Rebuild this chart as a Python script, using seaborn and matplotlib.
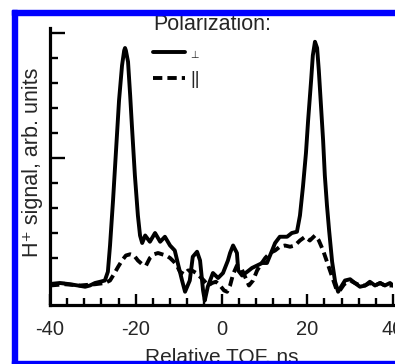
import numpy as np
import pandas as pd
import matplotlib
matplotlib.use("Agg")
import matplotlib.pyplot as plt
import seaborn as sns
from matplotlib.patches import Rectangle
from matplotlib.ticker import MultipleLocator

# Perpendicular polarization (solid)
perp_t = [-40.0, -37.7, -35.3, -33.5, -31.8, -30.7, -29.5, -28.3, -27.2, -26.5, -26.0, -25.3,
          -24.6, -23.9, -23.2, -22.7, -22.5, -22.3, -21.8, -21.3, -20.9, -20.2, -19.5, -19.0,
          -18.5, -17.8, -16.7, -15.5, -14.3, -13.2, -12.0, -10.9, -10.2, -9.2, -8.5, -7.4,
          -6.7, -5.7, -5.0, -4.3, -3.9, -3.2, -2.0, -0.8, 0.35, 1.5, 2.0, 2.7, 3.6, 3.9,
          4.8, 6.0, 7.1, 8.3, 9.5, 10.6, 11.8, 12.5, 13.6, 15.3, 16.4, 17.6, 18.3, 19.0,
          19.7, 20.2, 20.9, 21.3, 21.8, 22.3, 22.7, 23.2, 23.7, 24.1, 24.6, 25.1, 25.8,
          26.5, 27.2, 27.9, 28.8, 30.0, 31.1, 32.3, 33.5, 34.6, 35.8, 37.0, 38.1, 39.3, 40.0]
perp_s = [-0.01, 0.00, -0.01, -0.02, -0.03, -0.02, 0.00, 0.01, 0.02, 0.09, 0.30, 0.66,
          1.06, 1.46, 1.74, 1.86, 1.88, 1.86, 1.77, 1.50, 1.26, 0.86, 0.54, 0.38,
          0.32, 0.38, 0.33, 0.40, 0.33, 0.37, 0.30, 0.26, 0.16, 0.02, -0.07, 0.02,
          0.21, 0.25, 0.18, -0.06, -0.14, -0.03, 0.08, 0.04, 0.08, 0.18, 0.24, 0.30, 0.24, 0.10,
          0.06, 0.09, 0.12, 0.14, 0.16, 0.16, 0.26, 0.32, 0.37, 0.37, 0.40, 0.41, 0.54, 0.77,
          1.04, 1.30, 1.62, 1.82, 1.93, 1.88, 1.70, 1.42, 1.14, 0.86, 0.62, 0.42, 0.17,
          0.01, -0.07, -0.03, 0.02, 0.03, 0.00, -0.03, -0.02, 0.01, -0.02, 0.00, -0.02, 0.00, -0.02]

# Parallel polarization (dashed)
par_t = [-40.0, -36.5, -33.0, -29.5, -27.2, -26.0, -25.1, -24.1, -23.2, -22.3, -21.3, -20.4,
         -19.5, -18.5, -17.6, -16.7, -15.7, -14.8, -13.9, -12.9, -12.0, -11.1, -10.4, -9.7,
         -8.7, -7.8, -6.9, -5.9, -5.0, -4.1, -3.1, -2.2, -1.3, -0.35, 0.6, 1.3, 2.0, 2.7,
         3.6, 4.6, 5.5, 6.4, 7.35, 8.3, 9.2, 10.2, 11.3, 12.5, 13.6, 14.8, 16.0, 17.1,
         18.3, 19.5, 20.6, 21.8, 22.7, 23.7, 24.6, 25.5, 26.2, 26.9, 27.6, 28.6, 30.0,
         31.1, 32.3, 33.5, 34.6, 35.8, 37.0, 38.1, 40.0]
par_s = [-0.02, -0.01, -0.02, -0.01, 0.00, 0.02, 0.07, 0.13, 0.18, 0.22, 0.23, 0.22,
         0.18, 0.15, 0.14, 0.20, 0.23, 0.24, 0.23, 0.22, 0.20, 0.17, 0.14, 0.09,
         0.07, 0.10, 0.10, 0.08, 0.05, 0.02, -0.02, 0.00, 0.01, -0.02, -0.06, -0.07, -0.02, 0.07,
         0.14, 0.12, 0.05, -0.02, 0.02, 0.10, 0.15, 0.20, 0.24, 0.26, 0.29, 0.30, 0.29, 0.30,
         0.34, 0.37, 0.34, 0.38, 0.34, 0.26, 0.17, 0.08, 0.01, -0.06, -0.06, -0.01, 0.02,
         0.00, -0.02, -0.02, 0.00, -0.02, 0.00, -0.02, -0.02]

labels = ['\u22a5', '||']
x_major = [-40, -20, 0, 20, 40]

sns.set_style("ticks")
plt.rcParams['font.family'] = ['Liberation Sans', 'DejaVu Sans']

df = pd.concat([
    pd.DataFrame({'t': perp_t, 's': perp_s, 'pol': labels[0]}),
    pd.DataFrame({'t': par_t, 's': par_s, 'pol': labels[1]}),
], ignore_index=True)

W, H = 395, 364
fig = plt.figure(figsize=(W / 100, H / 100), dpi=100)
ax = fig.add_axes([50 / W, 59 / H, 343 / W, 277 / H])

sns.lineplot(data=df, x='t', y='s', hue='pol', style='pol',
             palette=['black', 'black'], dashes={labels[0]: '', labels[1]: (2.4, 1.3)},
             linewidth=2.8, sort=False, estimator=None, legend=False, ax=ax)

ax.set_xlim(-40, 40)
ax.set_ylim(-0.176, 2.04)
ax.set_xticks(x_major)
ax.set_xticklabels(['-40', '-20', '0', '20', '40'])
ax.xaxis.set_minor_locator(MultipleLocator(4))
ax.set_yticks([0, 1, 2])
ax.yaxis.set_minor_locator(MultipleLocator(0.2))
ax.set_yticklabels([])
ax.tick_params(which='both', direction='in', color='black', width=1.7)
ax.tick_params(axis='x', which='major', length=8, labelsize=14.5, pad=11)
ax.tick_params(axis='x', which='minor', length=5)
ax.tick_params(axis='y', which='major', length=11)
ax.tick_params(axis='y', which='minor', length=6)
for side in ['top', 'right']:
    ax.spines[side].set_visible(False)
for side in ['left', 'bottom']:
    ax.spines[side].set_linewidth(2.3)
    ax.spines[side].set_color('black')

ax.set_xlabel('Relative TOF, ns', fontsize=15)
ax.xaxis.set_label_coords(0.5, -0.152)
ax.set_ylabel('H\u207a signal, arb. units', fontsize=15.5)
ax.yaxis.set_label_coords(-0.02, 0.516)

leg = ax.legend(handles=ax.lines[:2], labels=labels, title='Polarization:',
                loc='upper left', bbox_to_anchor=(153 / W, 1 - 14 / H),
                bbox_transform=fig.transFigure, frameon=False, borderpad=0,
                borderaxespad=0, handlelength=1.78, handletextpad=0.3,
                labelspacing=0.6, fontsize=13, title_fontsize=15.5, alignment='left')
leg.get_texts()[0].set_fontsize(7)

blue = '#0000ff'
fig.add_artist(Rectangle((12 / W, 1 - 15 / H), 1, 5 / H, transform=fig.transFigure,
                         color=blue, zorder=20))
fig.add_artist(Rectangle((12 / W, 0), 5 / W, 1 - 10 / H, transform=fig.transFigure,
                         color=blue, zorder=20))
fig.add_artist(Rectangle((12 / W, 0), 1, 3 / H, transform=fig.transFigure,
                         color=blue, zorder=20))

fig.savefig('out.png', dpi=100)
